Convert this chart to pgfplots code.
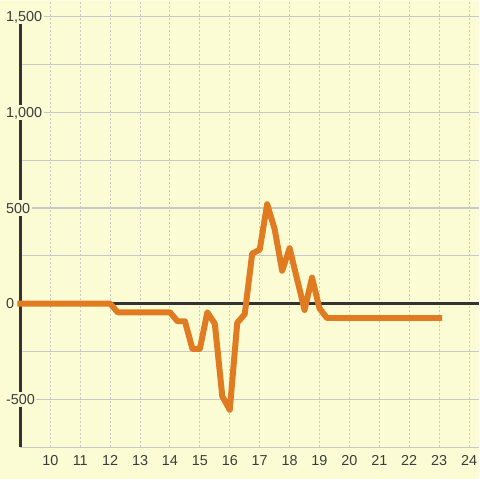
\documentclass[border=0pt]{standalone}
\usepackage{pgfplots}
\pgfplotsset{compat=1.18}
\usepackage{fontspec}
\setmainfont{Liberation Sans}
\definecolor{bgc}{HTML}{FCFCD4}
\definecolor{linec}{HTML}{E07B22}
\definecolor{axc}{HTML}{333333}
\definecolor{gridc}{HTML}{C8C8C8}
\definecolor{txtc}{HTML}{3C3C3C}
\begin{document}
\begin{tikzpicture}
\begin{axis}[
  set layers,
  at={(20.5bp,32bp)}, anchor=south west,
  scale only axis, width=459.5bp, height=448bp,
  xmin=9, xmax=24.317, ymin=-750, ymax=1585,
  axis line style={draw=none},
  clip=false,
  xtick={10,11,12,13,14,15,16,17,18,19,20,21,22,23,24},
  xticklabels={10,11,12,13,14,15,16,17,18,19,20,21,22,23,24},
  ytick={-500,0,500,1000,1500},
  yticklabels={-500,0,500,{1,000},{1,500}},
  minor ytick={-750,-250,250,750,1250},
  major tick length=0pt, minor tick length=0pt,
  xmajorgrids, ymajorgrids, yminorgrids,
  x grid style={color=gridc, line width=1bp, dash pattern=on 2bp off 2bp},
  y grid style={color=gridc, line width=1.2bp},
  minor y grid style={color=gridc, line width=1.2bp},
  tick label style={font=\fontsize{14.5}{16}\selectfont, text=txtc},
  xticklabel style={anchor=base, yshift=-18.5bp, inner sep=0pt},
  yticklabel style={anchor=west, xshift=-16bp, fill=bgc, inner xsep=1.5bp, inner ysep=2.5bp, text height=10.5bp, text depth=0pt},
]
\addplot[on layer=axis background, fill=bgc, draw=none] coordinates {(8.3167,-916.67) (24.317,-916.67) (24.317,1585) (8.3167,1585) (8.3167,-916.67)};
\addplot[on layer=axis lines, color=axc, line width=3bp] coordinates {(9,-750) (9,1460)};
\addplot[on layer=axis lines, color=axc, line width=3bp] coordinates {(9,0) (24.317,0)};
\addplot[color=linec, line width=6bp, line join=round, line cap=rect] coordinates {
(9,0) (12,0) (12.25,-45) (14,-45) (14.25,-92) (14.5,-92) (14.75,-236) (15,-236)
(15.25,-45) (15.5,-105) (15.75,-485) (16,-555) (16.25,-100) (16.5,-55)
(16.75,262) (17,282) (17.25,520) (17.5,390) (17.75,172) (18,290) (18.25,128)
(18.5,-33) (18.75,136) (19,-25) (19.25,-75) (23,-75)
};
\end{axis}
\end{tikzpicture}
\end{document}
